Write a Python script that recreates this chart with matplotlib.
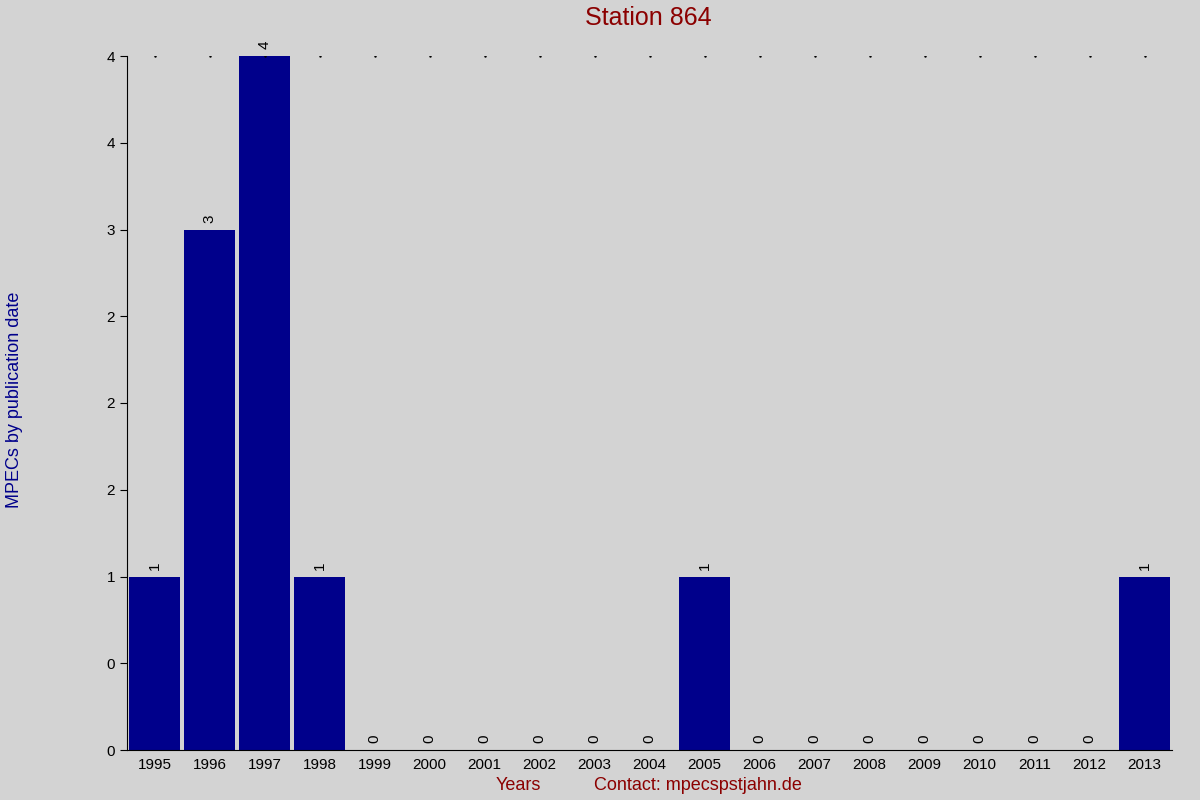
import matplotlib
matplotlib.use("Agg")
import matplotlib.pyplot as plt

years = [str(y) for y in range(1995, 2014)]
counts = [1, 3, 4, 1, 0, 0, 0, 0, 0, 0, 1, 0, 0, 0, 0, 0, 0, 0, 1]
ytick_vals = [0, 0.5, 1, 1.5, 2, 2.5, 3, 3.5, 4]
ytick_labels = ["0", "0", "1", "2", "2", "2", "3", "4", "4"]

plt.rcParams['font.family'] = ['Liberation Sans', 'DejaVu Sans']
fig = plt.figure(figsize=(12, 8), dpi=100, facecolor='#d3d3d3')
ax = fig.add_axes([127/1200, 50/800, (1172-127)/1200, (750-56)/800])
ax.set_facecolor('#d3d3d3')
x = list(range(len(years)))
ax.bar(x, counts, width=0.92, color='#00008b')
for xi, c in zip(x, counts):
    ax.text(xi, c + 0.04, str(c), rotation=90, ha='center', va='bottom', fontsize=11)
ax.plot(x, [4]*len(x), linestyle='none', marker='.', markersize=1.5, color='black')
ax.set_xlim(-0.5, len(years) - 0.5)
ax.set_ylim(0, 4)
ax.set_xticks(x)
ax.set_xticklabels(years, fontsize=11)
ax.set_yticks(ytick_vals)
ax.set_yticklabels(ytick_labels, fontsize=11)
ax.tick_params(axis='y', direction='out', length=5)
ax.tick_params(axis='x', length=0, pad=6)
for s in ['top', 'right']:
    ax.spines[s].set_visible(False)
fig.text(0.54, 0.977, "Station 864", ha='center', va='center', fontsize=18, color='#8b0000')
fig.text(0.012, 0.5, "MPECs by publication date", rotation=90, ha='center', va='center', fontsize=13, color='#00008b')
fig.text(0.432, 0.018, "Years", ha='center', va='center', fontsize=13, color='#8b0000')
fig.text(0.582, 0.018, "Contact: mpecspstjahn.de", ha='center', va='center', fontsize=13, color='#8b0000')
fig.savefig("out.png", dpi=100, facecolor='#d3d3d3')
